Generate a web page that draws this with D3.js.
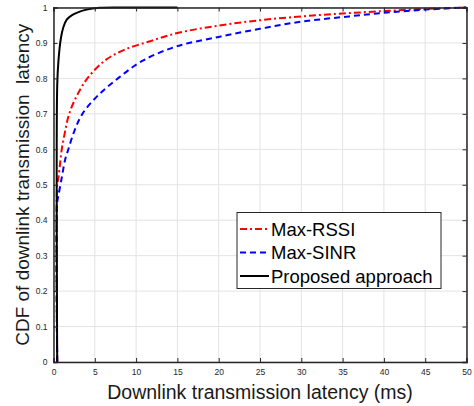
<!DOCTYPE html>
<html>
<head>
<meta charset="utf-8">
<script src="https://cdn.jsdelivr.net/npm/d3@7"></script>
<style>
  body { margin: 0; background: #fff; }
  text { font-family: "Liberation Sans", Arial, sans-serif; }
</style>
</head>
<body>
<div id="chart"></div>
<script>
var width = 474, height = 406;
var margin = {top: 7.5, right: 7.5, bottom: 44, left: 53.5};

// latency (ms) and CDF values
var rssiX = [0.45, 0.45, 0.6, 0.8, 1.0, 1.4, 1.9, 2.8, 4.1, 6.2, 8.5, 11.7, 15, 20, 25, 30, 35, 40, 45, 50];
var rssiY = [0, 0.5, 0.52, 0.56, 0.6, 0.65, 0.7, 0.75, 0.8, 0.85, 0.88, 0.905, 0.928, 0.949, 0.964, 0.975, 0.983, 0.99, 0.996, 1];
var sinrX = [0.45, 0.45, 0.6, 1.0, 1.4, 1.8, 2.5, 3.5, 5.3, 7.8, 10.8, 15, 20, 25, 30, 35, 40, 45, 50];
var sinrY = [0, 0.45, 0.47, 0.52, 0.57, 0.6, 0.65, 0.7, 0.75, 0.8, 0.85, 0.891, 0.917, 0.94, 0.96, 0.973, 0.985, 0.994, 1];
var propX = [0.45, 0.45, 0.6, 0.9, 1.2, 1.6, 2.2, 2.8, 4, 5.6, 8, 15];
var propY = [0, 0.78, 0.85, 0.914, 0.945, 0.966, 0.978, 0.985, 0.994, 0.999, 1, 1];

var xTicks = [0, 5, 10, 15, 20, 25, 30, 35, 40, 45, 50];
var yTicks = [0, 0.1, 0.2, 0.3, 0.4, 0.5, 0.6, 0.7, 0.8, 0.9, 1];
var seriesNames = ["Max-RSSI", "Max-SINR", "Proposed approach"];

var series = [
  {name: seriesNames[0], x: rssiX, y: rssiY, color: "#ff0000", dash: "7,3,2,3"},
  {name: seriesNames[1], x: sinrX, y: sinrY, color: "#0000ff", dash: "6,4"},
  {name: seriesNames[2], x: propX, y: propY, color: "#000000", dash: null}
];

var svg = d3.select("#chart").append("svg")
  .attr("width", width).attr("height", height);

var x = d3.scaleLinear().domain([0, 50]).range([margin.left, width - margin.right]);
var y = d3.scaleLinear().domain([0, 1]).range([height - margin.bottom, margin.top]);

// grid
svg.append("g").selectAll("line").data(xTicks).enter().append("line")
  .attr("x1", d => x(d)).attr("x2", d => x(d))
  .attr("y1", y(0)).attr("y2", y(1))
  .attr("stroke", "#e3e3e3").attr("stroke-width", 1);
svg.append("g").selectAll("line").data(yTicks).enter().append("line")
  .attr("x1", x(0)).attr("x2", x(50))
  .attr("y1", d => y(d)).attr("y2", d => y(d))
  .attr("stroke", "#e3e3e3").attr("stroke-width", 1);

// curves
var line = d3.line().x(d => x(d[0])).y(d => y(d[1])).curve(d3.curveCatmullRom.alpha(0.5));
series.forEach(function (s) {
  var pts = s.x.map((v, i) => [v, s.y[i]]);
  svg.append("path").datum(pts)
    .attr("d", line)
    .attr("fill", "none")
    .attr("stroke", s.color)
    .attr("stroke-width", 2)
    .attr("stroke-dasharray", s.dash);
});

// axes (ticks inward, box on)
var axColor = "#262626";
svg.append("g").attr("transform", "translate(0," + y(0) + ")")
  .call(d3.axisBottom(x).tickValues(xTicks).tickSize(-4).tickPadding(7));
svg.append("g").attr("transform", "translate(" + x(0) + ",0)")
  .call(d3.axisLeft(y).tickValues(yTicks).tickSize(-4).tickPadding(6).tickFormat(d3.format("")));
svg.append("g").attr("transform", "translate(0," + y(1) + ")")
  .call(d3.axisTop(x).tickValues(xTicks).tickSize(-4).tickFormat(""));
svg.append("g").attr("transform", "translate(" + x(50) + ",0)")
  .call(d3.axisRight(y).tickValues(yTicks).tickSize(-4).tickFormat(""));

svg.selectAll(".domain").attr("stroke", axColor).attr("stroke-width", 1.5);
svg.selectAll(".tick line").attr("stroke", axColor);
svg.selectAll(".tick text").attr("fill", axColor)
  .style("font-family", "'Liberation Sans', Arial, sans-serif").style("font-size", "8.5px");

// labels
svg.append("text")
  .attr("x", (x(0) + x(50)) / 2).attr("y", 399)
  .attr("text-anchor", "middle")
  .style("font-size", "19.5px").attr("fill", "#1a1a1a")
  .text("Downlink transmission latency (ms)");
svg.append("text")
  .attr("transform", "translate(29," + ((y(0) + y(1)) / 2) + ") rotate(-90)")
  .attr("text-anchor", "middle")
  .style("font-size", "19px").style("white-space", "pre").attr("fill", "#1a1a1a")
  .text("CDF of downlink transmission  latency");

// legend
var lg = svg.append("g").attr("transform", "translate(237,212.5)");
lg.append("rect").attr("width", 204).attr("height", 76)
  .attr("fill", "#fff").attr("stroke", "#262626").attr("stroke-width", 1);
series.forEach(function (s, i) {
  var yy = 16.5 + i * 23.5;
  lg.append("line").attr("x1", 3).attr("x2", 32).attr("y1", yy).attr("y2", yy)
    .attr("stroke", s.color).attr("stroke-width", 2).attr("stroke-dasharray", s.dash);
  lg.append("text").attr("x", 34).attr("y", yy + 6.5)
    .style("font-size", "18.5px").attr("fill", "#000").text(s.name);
});
</script>
</body>
</html>
